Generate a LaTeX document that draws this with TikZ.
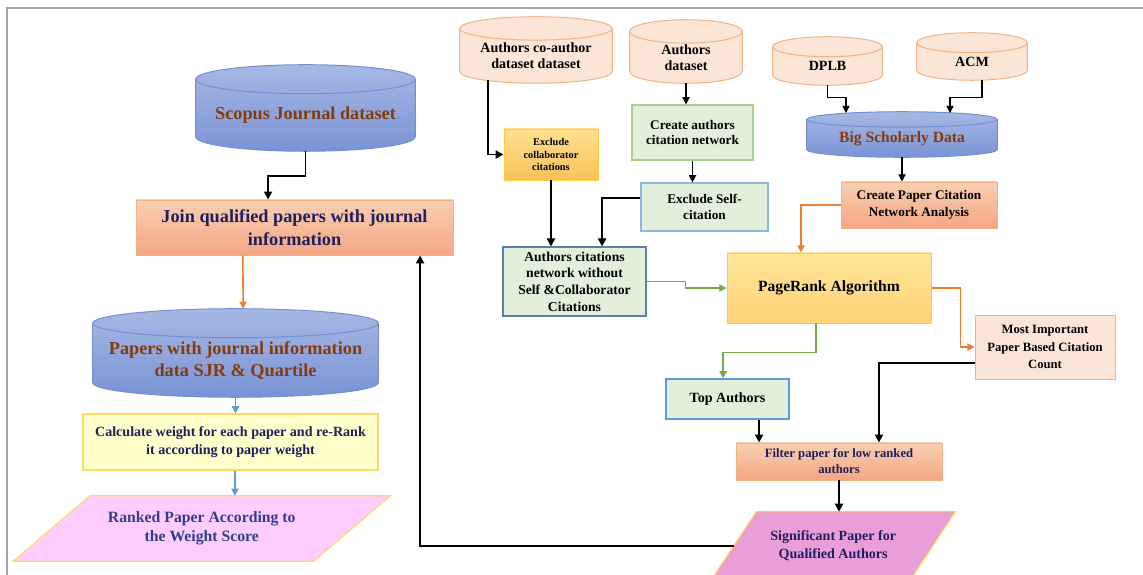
\documentclass[tikz,border=0pt]{standalone}
\usepackage{fontspec}
\setmainfont{Liberation Serif}
\usetikzlibrary{arrows.meta,calc,backgrounds}
\definecolor{framegray}{HTML}{A6A6A6}
\definecolor{navy}{HTML}{1F1F5E}
\definecolor{rankblue}{HTML}{2F3F8A}
\definecolor{brownish}{HTML}{843C0C}
\definecolor{dbtop}{HTML}{A7B8E3}
\definecolor{dbbot}{HTML}{7A93D6}
\definecolor{dbline}{HTML}{7090D2}
\definecolor{peach}{HTML}{FBE5D6}
\definecolor{peachline}{HTML}{F4B183}
\definecolor{salmtop}{HTML}{F8CFB3}
\definecolor{salmbot}{HTML}{F4A683}
\definecolor{paleyellow}{HTML}{FFFFCC}
\definecolor{yellowline}{HTML}{FFD966}
\definecolor{goldtop}{HTML}{FFE59A}
\definecolor{goldbot}{HTML}{FFD276}
\definecolor{ambertop}{HTML}{FFE08E}
\definecolor{amberbot}{HTML}{F8C15B}
\definecolor{goldline}{HTML}{FFC94A}
\definecolor{palegreen}{HTML}{E2EFDA}
\definecolor{leafline}{HTML}{A9D18E}
\definecolor{skyline}{HTML}{5B9BD5}
\definecolor{steelline}{HTML}{5A7FAE}
\definecolor{pinkfill}{HTML}{FFCCFF}
\definecolor{orchid}{HTML}{E99ED9}
\definecolor{linkorange}{HTML}{ED7D31}
\definecolor{linkblue}{HTML}{5B9BD5}
\definecolor{linkgreen}{HTML}{70AD47}
\tikzset{
  frame/.style={draw=framegray,line width=1.2pt},
  txt/.style={align=center,inner sep=1pt,font=\bfseries\fontsize{9.4}{11.6}\selectfont},
  db/.style={txt,rectangle,text=brownish},
  src/.style={txt,rectangle},
  salmonbox/.style={txt,rectangle,draw=peachline,top color=salmtop,bottom color=salmbot,line width=0.7pt},
  greenbox/.style={txt,rectangle,fill=palegreen,line width=0.8pt},
  goldbox/.style={txt,rectangle,draw=goldline,line width=0.7pt},
  outbox/.style={txt,rectangle},
  arr/.style={-{Triangle[length=2mm,width=2mm]},draw=black,line width=1.4pt},
  arrthin/.style={-{Triangle[length=1.8mm,width=1.8mm]},draw=black,line width=0.8pt},
  arrorange/.style={-{Triangle[length=1.8mm,width=1.8mm]},draw=linkorange,line width=1.1pt},
  arrblue/.style={-{Triangle[length=1.8mm,width=1.8mm]},draw=linkblue,line width=1.1pt},
  arrgreen/.style={-{Triangle[length=1.8mm,width=1.8mm]},draw=linkgreen,line width=1.1pt}
}
% drum behind a named node: node, end radius, fill, line colour
\newcommand{\drum}[4]{%
  \begin{scope}[on background layer]
    \path[#3,draw=#4,line width=0.7pt] let \p1=(#1.north west),\p2=(#1.south east) in
      (\x1,\y1)--(\x1,\y2+#2) arc[start angle=180,end angle=360,x radius={0.5*\x2-0.5*\x1},y radius=#2]
      --(\x2,\y1) arc[start angle=0,end angle=180,x radius={0.5*\x2-0.5*\x1},y radius=#2]--cycle;
    \draw[#4,line width=0.7pt] let \p1=(#1.north west),\p2=(#1.south east) in
      (\x1,\y1) arc[start angle=180,end angle=360,x radius={0.5*\x2-0.5*\x1},y radius=#2];
  \end{scope}}
% slanted box behind a named node: node, slant, fill, line colour
\newcommand{\slab}[4]{%
  \begin{scope}[on background layer]
    \path[#3,draw=#4,line width=0.8pt] ([xshift=-0.5*#2]#1.south west)--([xshift=-0.5*#2]#1.south east)
      --([xshift=0.5*#2]#1.north east)--([xshift=0.5*#2]#1.north west)--cycle;
  \end{scope}}
\begin{document}
\begin{tikzpicture}[x=1cm,y=1cm]
\path[use as bounding box] (0,0) rectangle (28.575,14.375);
\draw[frame] (0.175,0)--(0.175,14.175)--(28.575,14.175);

\node[db,font=\bfseries\fontsize{13}{15.6}\selectfont,minimum width=5.475cm,minimum height=1.7875cm] (scopus) at (7.6375,11.494) {Scopus Journal dataset};
\drum{scopus}{0.3625cm}{top color=dbtop,bottom color=dbbot}{dbline}
\node[salmonbox,text=navy,font=\bfseries\fontsize{13}{16.4}\selectfont,minimum width=7.925cm,minimum height=1.375cm] (join) at (7.3625,8.6875) {Join qualified papers with journal\\information};
\draw[arr] (scopus.south)--++(0,-0.62) -| ([xshift=-0.66cm]join.north);
\node[db,font=\bfseries\fontsize{13}{15.6}\selectfont,minimum width=7.125cm,minimum height=1.8375cm] (papers) at (5.8875,5.369) {Papers with journal information\\data SJR \& Quartile};
\drum{papers}{0.3625cm}{top color=dbtop,bottom color=dbbot}{dbline}
\draw[arrorange] ([xshift=-1.29cm]join.south)--([xshift=0.19cm,yshift=0.36cm]papers.north);
\node[txt,rectangle,draw=yellowline,fill=paleyellow,text=navy,line width=0.8pt,font=\bfseries\fontsize{10}{12.6}\selectfont,minimum width=7.375cm,minimum height=1.4cm] (weight) at (5.7625,3.325) {Calculate weight for each paper and re-Rank\\it according to paper weight};
\draw[arrblue] (papers.south)--(papers.south |- weight.north);
\node[outbox,text=rankblue,font=\bfseries\fontsize{11.2}{13.3}\selectfont,minimum width=7.5cm,minimum height=1.625cm] (ranked) at (5.044,1.1625) {Ranked Paper According to\\the Weight Score};
\slab{ranked}{1.925cm}{fill=pinkfill}{yellowline}
\draw[arrblue] ([xshift=0.11cm]weight.south)--([xshift=0.11cm]weight.south |- ranked.north);

\node[src,font=\bfseries\fontsize{10}{11.6}\selectfont,minimum width=3.8cm,minimum height=1.3575cm] (coauth) at (13.4,12.979) {Authors co-author\\dataset dataset};
\drum{coauth}{0.2925cm}{fill=peach}{peachline}
\node[src,font=\bfseries\fontsize{10}{11.6}\selectfont,minimum width=2.8cm,minimum height=1.2825cm] (authds) at (17.15,12.941) {Authors\\dataset};
\drum{authds}{0.2925cm}{fill=peach}{peachline}
\node[src,font=\bfseries\fontsize{10}{12}\selectfont,minimum width=2.725cm,minimum height=0.95cm] (dplb) at (20.6875,12.725) {DPLB};
\drum{dplb}{0.25cm}{fill=peach}{peachline}
\node[src,font=\bfseries\fontsize{10}{12}\selectfont,minimum width=2.75cm,minimum height=0.925cm] (acm) at (24.3,12.8375) {ACM};
\drum{acm}{0.25cm}{fill=peach}{peachline}
\node[db,font=\bfseries\fontsize{11.1}{13}\selectfont,minimum width=4.75cm,minimum height=0.9325cm] (bigdata) at (22.55,10.916) {Big Scholarly Data};
\drum{bigdata}{0.1925cm}{top color=dbtop,bottom color=dbbot}{dbline}
\draw[arrthin] (dplb.south)--++(0,-0.3) -| ([shift={(-1.4,0.16)}]bigdata.north);
\draw[arrthin] ([xshift=0.25cm]acm.south)--++(0,-0.42) -| ([shift={(1.2,0.16)}]bigdata.north);

\node[goldbox,top color=ambertop,bottom color=amberbot,font=\bfseries\fontsize{7.4}{9.2}\selectfont,minimum width=2.35cm,minimum height=1.275cm] (exclcollab) at (13.775,10.5125) {Exclude\\collaborator\\citations};
\draw[arr] ([shift={(-1.2,0.07)}]coauth.south) |- (exclcollab.west);
\node[greenbox,draw=leafline,minimum width=3.025cm,minimum height=1.375cm,font=\bfseries\fontsize{9.4}{10.9}\selectfont] (citnet) at (17.3125,11.0625) {Create authors\\citation network};
\draw[arrthin] (authds.south)--(authds.south |- citnet.north);
\node[greenbox,draw=skyline!70,minimum width=3.175cm,minimum height=1.2cm,font=\bfseries\fontsize{9.4}{10.9}\selectfont] (exclself) at (17.6125,9.2) {Exclude Self-\\citation};
\draw[arrthin] (citnet.south)--(citnet.south |- exclself.north);
\node[greenbox,draw=steelline,minimum width=3.575cm,minimum height=1.725cm,font=\bfseries\fontsize{9.7}{11.9}\selectfont] (cleannet) at (14.3625,7.3375) {Authors citations\\network without\\Self \&Collaborator\\Citations};
\draw[arr] (exclcollab.south)--(exclcollab.south |- cleannet.north);
\draw[arr] ([yshift=0.22cm]exclself.west) -| ([xshift=0.69cm]cleannet.north);

\node[salmonbox,minimum width=3.9cm,minimum height=1.15cm,font=\bfseries\fontsize{9.4}{11.9}\selectfont] (papernet) at (22.975,9.25) {Create Paper Citation\\Network Analysis};
\draw[arrthin] (bigdata.south)--(bigdata.south |- papernet.north);
\node[goldbox,top color=goldtop,bottom color=goldbot,minimum width=5.1cm,minimum height=1.75cm,font=\bfseries\fontsize{11.1}{13}\selectfont] (pagerank) at (20.725,7.175) {PageRank Algorithm};
\draw[arrorange] (papernet.west) -| ([xshift=-0.7cm]pagerank.north);
\draw[arrgreen] (cleannet.east)--++(0.975,0) |- (pagerank.west);
\node[txt,rectangle,draw=peachline,fill=peach,line width=0.7pt,minimum width=3.5cm,minimum height=1.6cm,font=\bfseries\fontsize{9}{12.2}\selectfont] (topcited) at (26.125,5.7) {Most Important\\Paper Based Citation\\Count};
\draw[arrorange] (pagerank.east)--++(0.725,0) |- (topcited.west);
\node[greenbox,draw=skyline,minimum width=3.075cm,minimum height=1cm,font=\bfseries\fontsize{10}{12}\selectfont] (topauth) at (18.1875,4.4) {Top Authors};
\draw[arrgreen] ([xshift=-0.325cm]pagerank.south)--++(0,-0.725) -| ([xshift=-0.11cm]topauth.north);
\node[salmonbox,text=navy,minimum width=5.15cm,minimum height=0.925cm,font=\bfseries\fontsize{9}{11.4}\selectfont] (filter) at (20.975,2.8375) {Filter paper for low ranked\\authors};
\draw[arr] ([xshift=0.79cm]topauth.south)--([xshift=0.79cm]topauth.south |- filter.north);
\draw[arr] ([yshift=-0.4cm]topcited.west) -| ([xshift=1cm]filter.north);
\node[outbox,text=navy,font=\bfseries\fontsize{10}{12.8}\selectfont,minimum width=4.95cm,minimum height=1.7cm] (signif) at (20.83,0.725) {Significant Paper for\\Qualified Authors};
\slab{signif}{1.133cm}{fill=orchid}{goldline}
\draw[arr] (filter.south)--(filter.south |- signif.north);
\draw[arr] (signif.west) -| ([xshift=3.14cm]join.south);
\end{tikzpicture}
\end{document}
